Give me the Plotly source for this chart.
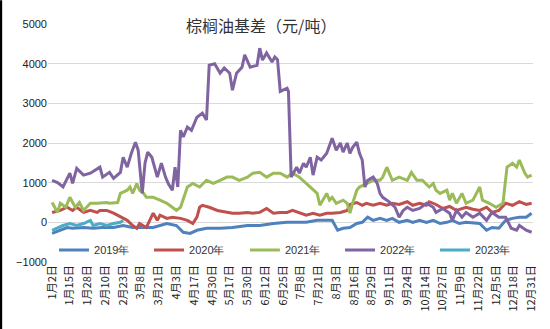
import plotly.graph_objects as go

# Category tick labels (every 13th trading day)
tick_labels = ["1月2日", "1月15日", "1月28日", "2月10日", "2月23日", "3月8日", "3月21日",
               "4月3日", "4月17日", "4月30日", "5月17日", "5月30日", "6月12日", "6月25日",
               "7月8日", "7月21日", "8月3日", "8月16日", "8月29日", "9月11日", "9月24日",
               "10月14日", "10月27日", "11月9日", "11月22日", "12月5日", "12月18日", "12月31日"]
tick_pos = [i * 13 for i in range(len(tick_labels))]

# 2019
x2019 = [0, 6, 11, 15, 23, 30, 37, 45, 52, 59, 67, 74, 84, 91, 96, 101, 106, 113, 123, 132,
         143, 152, 162, 172, 181, 186, 194, 201, 205, 209, 213, 218, 223, 227, 231, 235, 240,
         245, 249, 254, 260, 264, 269, 274, 279, 284, 289, 293, 298, 303, 313, 318, 322, 327,
         332, 337, 342, 347, 351]
y2019 = [-280, -200, -130, -150, -130, -150, -130, -130, -80, -130, -130, -130, -30, -80, -250,
         -280, -200, -150, -150, -130, -80, -80, -30, 0, 0, 0, 50, 50, 50, -200, -150, -130, -30,
         0, 130, 50, 100, 50, 100, 0, 50, 0, 50, 0, 50, -30, 0, 50, -30, 0, -30, -200, -130, -150,
         50, 100, 130, 130, 230]

# 2020
x2020 = [0, 6, 11, 15, 18, 23, 28, 33, 35, 40, 45, 50, 55, 59, 62, 64, 69, 74, 77, 79, 84, 88,
         94, 99, 103, 106, 108, 110, 115, 121, 128, 132, 137, 143, 147, 152, 157, 162, 167, 172,
         176, 181, 186, 191, 196, 201, 205, 211, 216, 218, 223, 227, 230, 235, 240, 245, 249,
         254, 260, 264, 269, 274, 276, 281, 286, 291, 296, 303, 308, 313, 318, 322, 327, 332,
         337, 342, 347, 351]
y2020 = [250, 300, 380, 300, 380, 250, 300, 250, 300, 300, 230, 130, 50, -80, -150, -30, -130,
         230, 50, 180, 100, 130, 100, 50, -30, 130, 380, 430, 380, 300, 250, 230, 230, 250, 230,
         250, 350, 230, 250, 250, 300, 250, 180, 230, 180, 230, 230, 250, 300, 450, 500, 430, 480,
         430, 480, 430, 480, 450, 520, 430, 480, 430, 520, 450, 350, 400, 300, 380, 330, 300, 380,
         250, 300, 480, 430, 520, 450, 480]

# 2021
x2021 = [0, 4, 6, 10, 13, 17, 20, 23, 28, 33, 40, 42, 48, 50, 55, 57, 59, 62, 64, 67, 69, 74,
         79, 84, 88, 91, 94, 99, 103, 108, 113, 118, 123, 128, 132, 137, 143, 147, 152, 157, 162,
         167, 172, 176, 181, 186, 191, 194, 196, 198, 201, 203, 205, 208, 213, 216, 218, 220,
         223, 225, 230, 235, 240, 242, 245, 247, 249, 254, 260, 263, 267, 271, 276, 279, 281,
         284, 289, 291, 293, 296, 300, 303, 308, 313, 315, 320, 325, 330, 333, 337, 340, 342,
         346, 348, 351]
y2021 = [500, 250, 480, 380, 630, 380, 500, 300, 480, 480, 500, 480, 500, 730, 810, 890, 730,
         980, 810, 730, 630, 630, 560, 480, 380, 300, 380, 890, 980, 890, 1060, 980, 1060, 1140,
         1140, 1060, 1140, 1240, 1260, 1140, 1240, 1240, 1140, 1240, 1140, 980, 810, 730, 430,
         560, 730, 560, 630, 480, 560, 480, 230, 480, 810, 890, 980, 1060, 1060, 1140, 1390, 1240,
         1060, 1140, 1060, 1260, 1060, 1060, 890, 980, 810, 730, 810, 560, 730, 480, 730, 480,
         560, 890, 560, 480, 380, 480, 1390, 1490, 1390, 1570, 1240, 1140, 1190]

# 2022
x2022 = [0, 4, 8, 13, 15, 18, 23, 28, 35, 37, 42, 45, 50, 52, 55, 58, 61, 63, 66, 68, 70, 73,
         75, 77, 80, 83, 85, 88, 90, 92, 94, 96, 99, 102, 106, 110, 113, 115, 119, 123, 126, 130,
         132, 135, 139, 141, 145, 150, 152, 154, 157, 161, 163, 165, 167, 172, 173, 175, 179,
         181, 184, 186, 189, 191, 194, 197, 201, 205, 208, 211, 213, 216, 218, 220, 223, 225,
         227, 229, 231, 235, 238, 240, 242, 247, 251, 254, 257, 260, 264, 269, 274, 279, 281,
         286, 291, 293, 296, 300, 303, 308, 313, 318, 322, 327, 332, 336, 340, 342, 347, 351]
y2022 = [1060, 1000, 890, 1240, 980, 1360, 1190, 1240, 1390, 1140, 1260, 1110, 1260, 1640,
         1390, 1740, 2020, 1820, 730, 1490, 1770, 1640, 1390, 1140, 1490, 1140, 980, 810, 1390,
         890, 2320, 2150, 2400, 2320, 2650, 2750, 2580, 3960, 4000, 3760, 3890, 3760, 3330, 3760,
         3910, 4220, 3910, 3960, 4390, 4090, 4270, 4040, 4170, 4100, 3300, 3380, 3300, 1140, 1390,
         1240, 1490, 1390, 1640, 1190, 1640, 1570, 1740, 2120, 1820, 2000, 1770, 2000, 1740, 1890,
         2020, 1740, 1570, 890, 1060, 1140, 980, 730, 630, 510, 380, 130, 300, 380, 300, 350, 480,
         380, 250, 350, 230, 50, 300, 130, 250, 130, 230, 50, 250, 130, 130, -150, -200, -80,
         -200, -250]

# 2023
x2023 = [0, 4, 8, 13, 18, 23, 28, 30, 35, 40, 45, 50, 52]
y2023 = [-200, -130, -80, -30, -80, -30, 50, -80, -30, -80, -30, 0, 50]

series = [
    ("2019年", x2019, y2019, "#4F81BD"),
    ("2020年", x2020, y2020, "#C0504D"),
    ("2021年", x2021, y2021, "#9BBB59"),
    ("2022年", x2022, y2022, "#8064A2"),
    ("2023年", x2023, y2023, "#4BACC6"),
]

legend_ids = ["legend", "legend2", "legend3", "legend4", "legend5"]
legend_x = [0.0124, 0.2083, 0.406, 0.6021, 0.7979]

fig = go.Figure()
for (name, xs, ys, col), lid in zip(series, legend_ids):
    fig.add_trace(go.Scatter(x=xs, y=ys, name=name, mode="lines", legend=lid,
                             line=dict(color=col, width=3)))

legend_style = dict(orientation="h", xanchor="left", y=0.05, yanchor="middle",
                    bgcolor="rgba(0,0,0,0)",
                    font=dict(family="Liberation Sans", size=11, color="#333333"))
legends = {lid: dict(x=lx, **legend_style) for lid, lx in zip(legend_ids, legend_x)}

fig.update_layout(
    width=550, height=329,
    margin=dict(l=48, r=17, t=24, b=67),
    paper_bgcolor="white", plot_bgcolor="white",
    title=dict(text="棕榈油基差（元/吨）", x=0.475, xanchor="center", y=0.921, yanchor="middle",
               font=dict(family="Noto Sans CJK SC", size=16, color="#333333")),
    showlegend=True,
    xaxis=dict(range=[-3, 352], tickmode="array", tickvals=tick_pos, ticktext=tick_labels,
               tickangle=-90, showgrid=False, zeroline=False, showline=False, ticks="",
               tickfont=dict(family="Noto Sans CJK SC", size=11, color="#222222")),
    yaxis=dict(range=[-1000, 5000], dtick=1000, tick0=0, showgrid=True, gridcolor="#D9D9D9",
               gridwidth=1, zeroline=False, showline=False, ticks="",
               tickfont=dict(family="Liberation Sans", size=11, color="#222222")),
    shapes=[dict(type="rect", xref="paper", yref="paper", x0=-0.1, x1=-0.0945, y0=-0.3, y1=1.1,
                 fillcolor="black", line=dict(width=0))],
    **legends,
)

fig.write_html("out.html")
